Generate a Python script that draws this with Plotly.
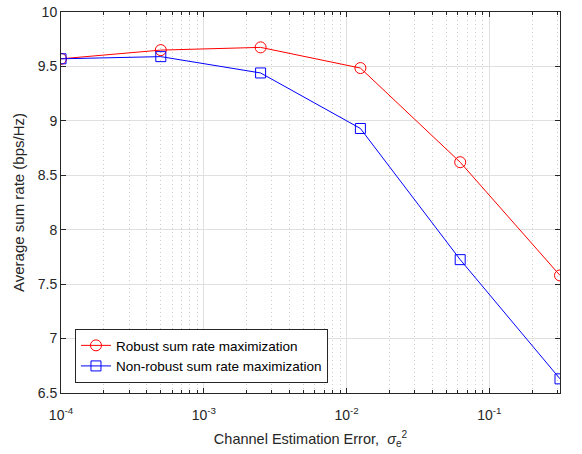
import plotly.graph_objects as go
import numpy as np

sigma2 = [1e-4, 5e-4, 2.5e-3, 1.25e-2, 6.25e-2, 0.3125]
robust = [9.57, 9.65, 9.675, 9.485, 8.62, 7.58]
nonrobust = [9.57, 9.59, 9.44, 8.93, 7.725, 6.63]
yticks = [6.5, 7, 7.5, 8, 8.5, 9, 9.5, 10]
ytick_text = ["6.5", "7", "7.5", "8", "8.5", "9", "9.5", "10"]
xticks = [1e-4, 1e-3, 1e-2, 1e-1]
xtick_text = ["10<sup>-4</sup>", "10<sup>-3</sup>", "10<sup>-2</sup>", "10<sup>-1</sup>"]
xminor = [m * 10.0 ** d for d in range(-4, 0) for m in range(2, 10) if m * 10.0 ** d <= 0.3125]

font = "Liberation Sans, Arial, sans-serif"
xrange = [-4, np.log10(0.3125)]

fig = go.Figure()
# invisible trace to anchor the minor-grid overlay axis
fig.add_trace(go.Scatter(x=[sigma2[0], sigma2[-1]], y=[robust[0], robust[-1]], xaxis="x2",
                         mode="markers", marker=dict(opacity=0), showlegend=False,
                         hoverinfo="skip"))
fig.add_trace(go.Scatter(
    x=sigma2, y=robust, mode="lines+markers",
    name="Robust sum rate maximization",
    line=dict(color="#ff0000", width=1),
    marker=dict(symbol="circle-open", size=11, color="#ff0000", line=dict(width=1)),
))
fig.add_trace(go.Scatter(
    x=sigma2, y=nonrobust, mode="lines+markers",
    name="Non-robust sum rate maximization",
    line=dict(color="#0000ff", width=1),
    marker=dict(symbol="square-open", size=10, color="#0000ff", line=dict(width=1)),
))

fig.update_layout(
    width=582, height=454,
    margin=dict(l=61, r=22, t=12, b=61, autoexpand=False),
    paper_bgcolor="white", plot_bgcolor="white",
    font=dict(family=font, size=14, color="#262626"),
    showlegend=True,
    legend=dict(
        x=0.028, y=0.026, xanchor="left", yanchor="bottom",
        bgcolor="white", bordercolor="#262626", borderwidth=1,
        font=dict(size=13.5, color="#000000"),
        tracegroupgap=0,
    ),
    xaxis2=dict(
        type="log", range=xrange, overlaying="x", side="bottom",
        tickvals=xminor, showticklabels=False,
        ticks="inside", ticklen=3, tickcolor="#262626",
        showgrid=True, gridcolor="#cccccc", griddash="1px,3px", gridwidth=1,
        mirror="ticks", showline=False, zeroline=False, automargin=False,
    ),
)

fig.layout.xaxis.update(
    type="log", range=xrange, automargin=False,
    tickvals=xticks, ticktext=xtick_text,
    ticks="inside", ticklen=5, tickcolor="#262626",
    showline=True, linecolor="#262626", linewidth=1, mirror="ticks",
    showgrid=True, gridcolor="#e0e0e0", gridwidth=1,
    zeroline=False, ticklabelstandoff=9,
    title=dict(text="Channel Estimation Error,  <i>σ</i><sub>e</sub><sup>2</sup>",
               font=dict(size=14.5, color="#262626"), standoff=12),
    tickfont=dict(size=14),
)
fig.update_yaxes(
    range=[6.5, 10], automargin=False,
    tickvals=yticks, ticktext=ytick_text,
    ticks="inside", ticklen=5, tickcolor="#262626",
    showline=True, linecolor="#262626", linewidth=1, mirror="ticks",
    showgrid=True, gridcolor="#e0e0e0", gridwidth=1,
    zeroline=False, ticklabeloverflow="allow",
    title=dict(text="Average sum rate (bps/Hz)", font=dict(size=15, color="#262626"), standoff=9),
    tickfont=dict(size=14),
)

fig.write_html("out.html", config={"displayModeBar": False},
               post_script="document.body.style.margin='0';")
